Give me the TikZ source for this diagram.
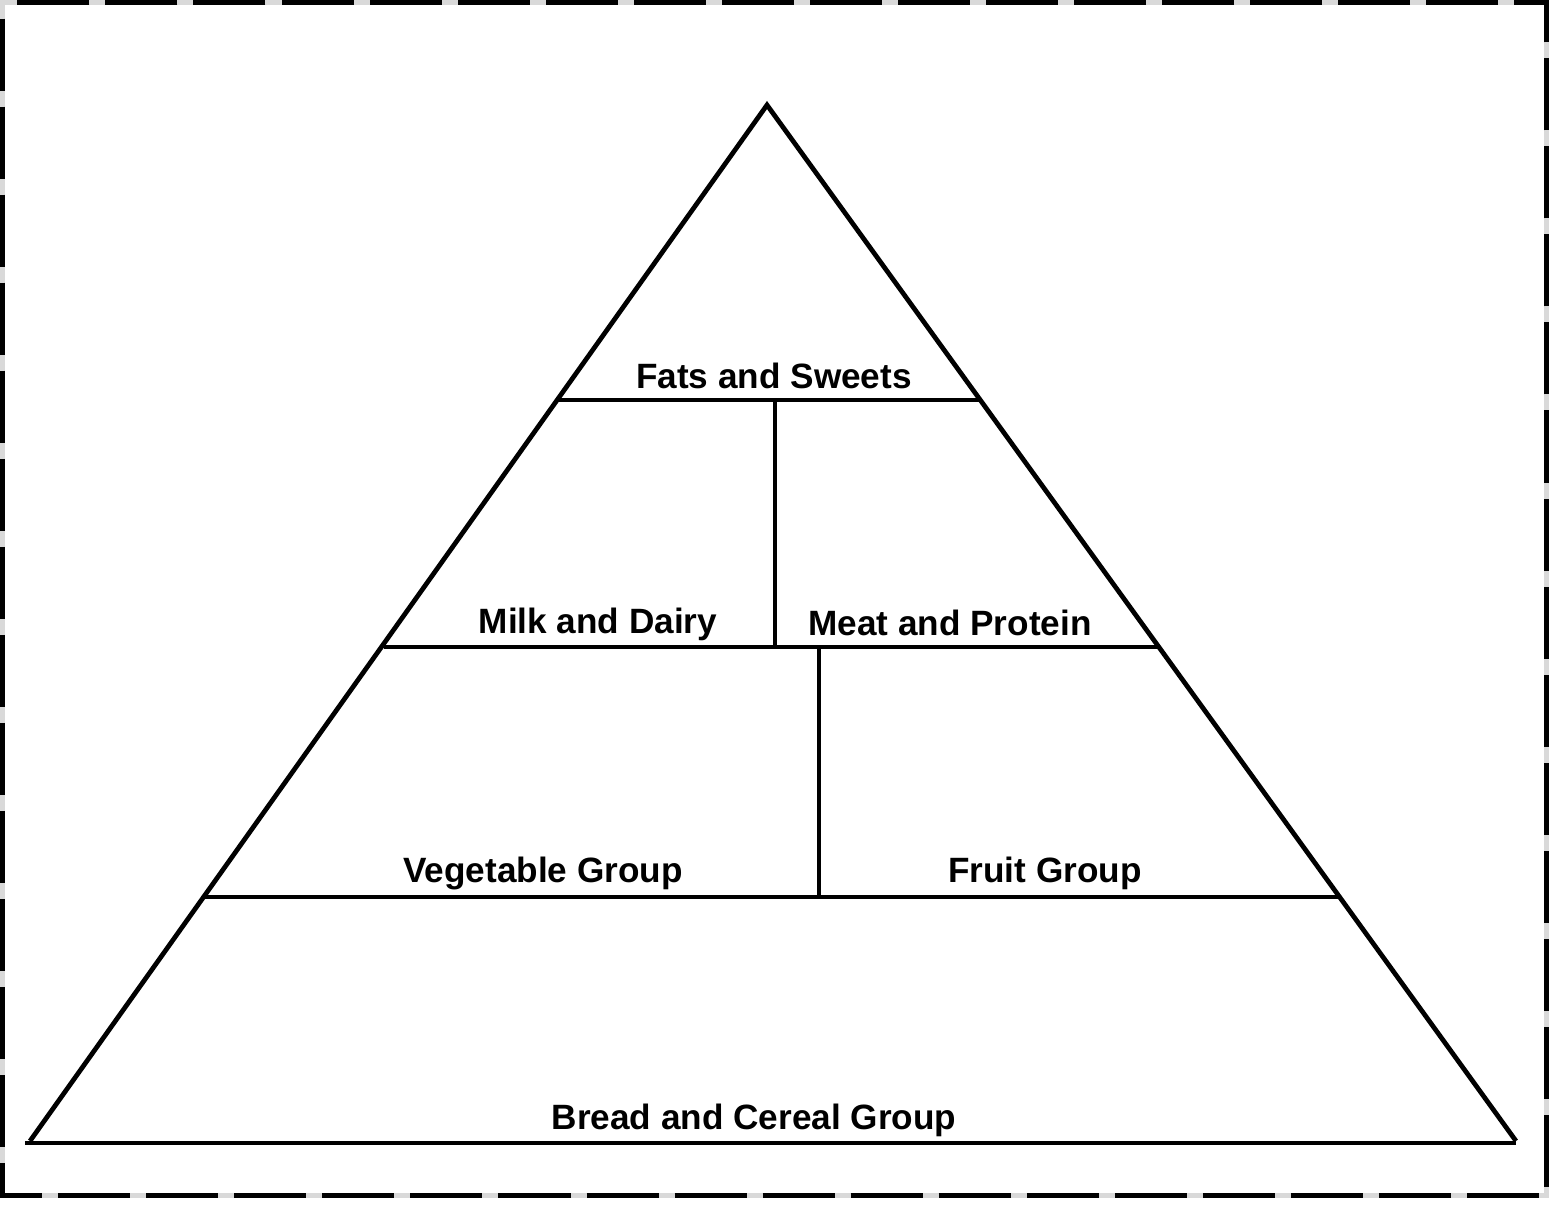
\documentclass[tikz,border=0pt]{standalone}
\usepackage{fontspec}
\setmainfont{Liberation Sans}

\tikzset{
    band/.style={line width=1.35pt},
    grouplabel/.style={anchor=base, inner sep=0pt, font=\fontsize{10}{12}\selectfont\bfseries},
}

\begin{document}
\begin{tikzpicture}[x=0.01cm, y=-0.01cm]
            \useasboundingbox (0, 0) rectangle (1551, 1205);
            \fill[white] (0, 0) rectangle (1551, 1205);

            % dashed frame
            \draw[line width=1.5pt, gray!30] (2.5, 2.5) rectangle (1546.5, 1195.5);
            \draw[line width=1.5pt, dash pattern=on 7.2mm off 1.6mm, dash phase=-1.6mm] (2.5, 2.5) rectangle (1546.5, 1195.5);

            % pyramid
            \coordinate (apex) at (767, 105);
            \coordinate (baseL) at (30, 1141);
            \coordinate (baseR) at (1516, 1141);
            \draw[band, line join=miter] (baseL) -- (apex) -- (baseR);
            \draw[band] (25, 1143) -- (1516, 1143);

            \draw[band] (559, 400) coordinate (topL) -- (980, 400) coordinate (topR);
            \draw[band] (384, 647) coordinate (midL) -- (1159, 647) coordinate (midR);
            \draw[band] (205, 897) coordinate (lowL) -- (1340, 897) coordinate (lowR);

            \draw[band] (775, 400) coordinate (cutA) -- (775, 647);
            \draw[band] (819, 647) coordinate (cutB) -- (819, 897);

            % labels
            \node[grouplabel] (fats) at (774, 388) {Fats and Sweets};
            \node[grouplabel] (milk) at (598, 633) {Milk and Dairy};
            \node[grouplabel] (meat) at (950, 635) {Meat and Protein};
            \node[grouplabel] (veg) at (543, 882) {Vegetable Group};
            \node[grouplabel] (fruit) at (1045, 882) {Fruit Group};
            \node[grouplabel] (bread) at (754, 1129) {Bread and Cereal Group};
        \end{tikzpicture}
\end{document}
